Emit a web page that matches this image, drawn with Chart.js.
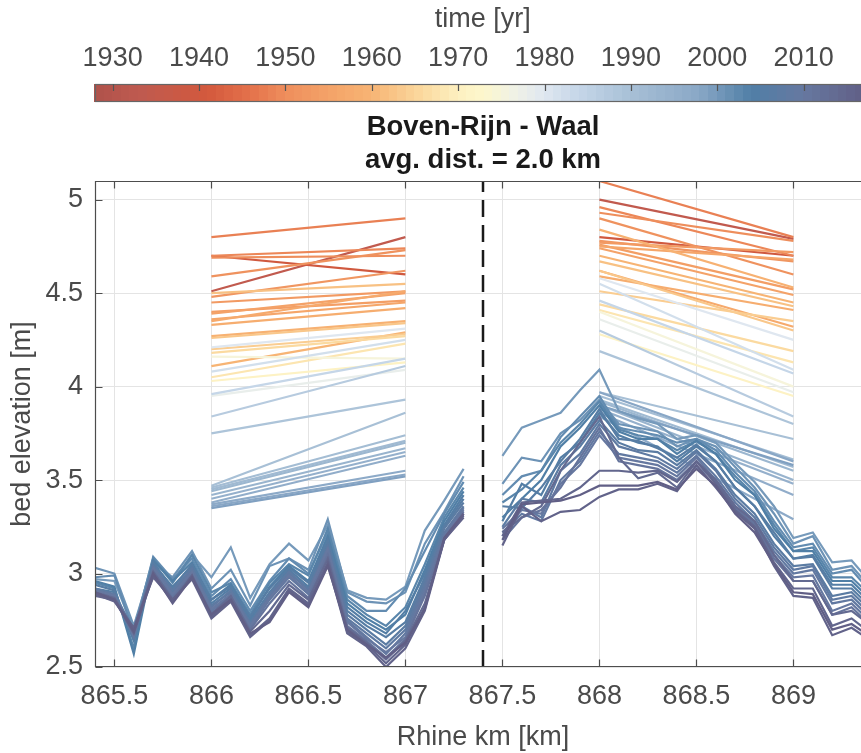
<!DOCTYPE html>
<html>
<head>
<meta charset="utf-8">
<title>Boven-Rijn - Waal</title>
<script src="https://cdn.jsdelivr.net/npm/chart.js@4/dist/chart.umd.min.js"></script>
<style>
  html, body { margin: 0; padding: 0; background: #fff; overflow: hidden; }
  #wrap { position: relative; width: 871px; height: 753px; }
  #wrap canvas { position: absolute; left: 0; top: 0; }
</style>
</head>
<body>
<div id="wrap">
  <canvas id="bed" width="871" height="753"></canvas>
  <canvas id="cbar" width="871" height="180"></canvas>
</div>
<script>
'use strict';

// ---- survey data ----
// sparse surveys: only the stations at km 866/867 and 868/869
const oldKm = [866, 867, 868, 869];
const oldYears = [1934, 1940, 1948, 1949, 1950, 1951, 1952, 1953, 1954, 1955, 1956, 1957, 1958, 1959, 1960, 1962, 1963, 1964, 1966, 1968, 1971, 1975, 1978, 1980, 1982, 1984, 1987, 1989, 1990, 1991, 1992, 1993, 1994, 1995, 1996, 1997, 1998, 1999];
const old866 = [4.51, 4.70, 4.80, 4.70, 4.69, 4.59, 4.48, 4.45, 4.40, 4.39, 4.36, 4.35, 4.33, 4.27, 4.11, 4.50, 4.26, 4.20, 4.18, 4.05, 4.03, 4.16, 3.95, 4.21, 4.08, 3.96, 3.84, 3.75, 3.47, 3.46, 3.45, 3.44, 3.42, 3.40, 3.38, 3.37, 3.36, 3.35];
const old867 = [4.80, 4.60, 4.90, 4.74, 4.70, 4.73, 4.62, 4.51, 4.46, 4.50, 4.45, 4.51, 4.42, 4.35, 4.29, 4.55, 4.34, 4.28, 4.27, 4.23, 4.13, 4.15, 4.09, 4.31, 4.25, 4.15, 4.11, 3.93, 3.86, 3.74, 3.71, 3.70, 3.67, 3.65, 3.63, 3.55, 3.53, 3.52];
const old868 = [5.00, 4.80, 5.10, 4.96, 4.93, 4.90, 4.78, 4.77, 4.76, 4.74, 4.75, 4.62, 4.59, 4.84, 4.70, 4.67, 4.62, 4.51, 4.44, 4.41, 4.28, 4.40, 4.36, 4.58, 4.55, 4.46, 4.30, 4.19, 3.97, 3.95, 3.93, 3.92, 3.90, 3.88, 3.86, 3.84, 3.97, 3.90];
const old869 = [4.79, 4.70, 4.80, 4.70, 4.78, 4.60, 4.67, 4.72, 4.52, 4.49, 4.68, 4.32, 4.41, 4.53, 4.45, 4.43, 4.30, 4.35, 4.19, 4.13, 3.95, 4.00, 3.97, 4.25, 4.09, 4.07, 3.84, 3.80, 3.72, 3.61, 3.57, 3.55, 3.50, 3.48, 3.42, 3.29, 3.60, 3.58];

// dense multibeam surveys, every 100 m on both sides of the split
const kmLeft = [865.4, 865.5, 865.6, 865.7, 865.8, 865.9, 866.0, 866.1, 866.2, 866.3, 866.4, 866.5, 866.6, 866.7, 866.8, 866.9, 867.0, 867.1, 867.2, 867.3];
const kmRight = [867.5, 867.6, 867.7, 867.8, 867.9, 868.0, 868.1, 868.2, 868.3, 868.4, 868.5, 868.6, 868.7, 868.8, 868.9, 869.0, 869.1, 869.2, 869.3, 869.4];
const profileYears = [2000, 2001, 2002, 2003, 2004, 2005, 2006, 2007, 2008, 2009, 2010, 2011, 2014, 2015, 2016, 2017];
const bedLeft = [
  [2.97, 2.96, 2.70, 3.08, 2.96, 3.10, 2.98, 3.14, 2.87, 3.05, 3.16, 3.07, 3.26, 2.91, 2.87, 2.86, 2.93, 3.23, 3.39, 3.56],
  [3.03, 3.00, 2.72, 3.06, 2.98, 3.12, 2.92, 3.02, 2.83, 3.04, 3.08, 3.02, 3.29, 2.90, 2.85, 2.84, 2.90, 3.16, 3.33, 3.52],
  [2.98, 2.99, 2.68, 3.09, 2.97, 3.08, 2.88, 2.97, 2.80, 2.96, 3.08, 3.00, 3.22, 2.88, 2.80, 2.80, 2.92, 3.12, 3.32, 3.49],
  [2.95, 2.92, 2.60, 3.08, 2.95, 3.10, 2.90, 2.95, 2.78, 2.95, 3.05, 2.99, 3.24, 2.86, 2.78, 2.72, 2.82, 3.05, 3.30, 3.46],
  [2.96, 2.93, 2.57, 3.07, 2.96, 3.06, 2.86, 2.94, 2.76, 2.93, 3.04, 2.96, 3.20, 2.84, 2.76, 2.70, 2.78, 3.02, 3.28, 3.44],
  [2.92, 2.90, 2.64, 3.05, 2.93, 3.04, 2.84, 2.92, 2.75, 2.90, 3.02, 2.93, 3.17, 2.82, 2.74, 2.68, 2.80, 3.00, 3.26, 3.42],
  [2.94, 2.91, 2.66, 3.06, 2.92, 3.05, 2.86, 2.93, 2.77, 2.92, 3.03, 2.95, 3.18, 2.80, 2.72, 2.66, 2.74, 2.98, 3.25, 3.40],
  [2.91, 2.88, 2.67, 3.02, 2.90, 3.02, 2.83, 2.90, 2.74, 2.88, 3.00, 2.92, 3.15, 2.78, 2.70, 2.62, 2.72, 2.96, 3.24, 3.38],
  [2.92, 2.89, 2.70, 3.04, 2.91, 3.03, 2.82, 2.91, 2.73, 2.89, 3.01, 2.91, 3.14, 2.76, 2.68, 2.60, 2.70, 2.94, 3.22, 3.36],
  [2.90, 2.87, 2.68, 3.01, 2.88, 3.00, 2.80, 2.88, 2.71, 2.86, 2.98, 2.89, 3.12, 2.75, 2.66, 2.57, 2.68, 2.92, 3.21, 3.35],
  [2.91, 2.88, 2.66, 3.03, 2.89, 3.01, 2.81, 2.89, 2.72, 2.87, 2.99, 2.90, 3.13, 2.74, 2.65, 2.58, 2.66, 2.90, 3.20, 3.34],
  [2.89, 2.86, 2.69, 3.00, 2.87, 2.99, 2.79, 2.87, 2.70, 2.84, 2.96, 2.87, 3.10, 2.72, 2.64, 2.55, 2.65, 2.88, 3.19, 3.33],
  [2.90, 2.87, 2.70, 3.01, 2.86, 2.98, 2.78, 2.88, 2.69, 2.80, 2.94, 2.86, 3.08, 2.71, 2.63, 2.54, 2.64, 2.84, 3.18, 3.32],
  [2.88, 2.86, 2.68, 2.99, 2.85, 2.99, 2.77, 2.86, 2.67, 2.76, 2.92, 2.84, 3.06, 2.69, 2.62, 2.52, 2.62, 2.82, 3.18, 3.31],
  [2.89, 2.85, 2.71, 2.98, 2.86, 2.97, 2.76, 2.85, 2.66, 2.75, 2.91, 2.83, 3.05, 2.68, 2.61, 2.50, 2.60, 2.80, 3.18, 3.30],
  [2.90, 2.86, 2.69, 3.00, 2.84, 2.98, 2.78, 2.86, 2.68, 2.74, 2.90, 2.82, 3.04, 2.70, 2.62, 2.55, 2.63, 2.81, 3.19, 3.32]
];
const bedRight = [
  [3.63, 3.78, 3.82, 3.86, 3.98, 4.09, 3.87, 3.83, 3.80, 3.72, 3.74, 3.70, 3.59, 3.49, 3.36, 3.19, 3.22, 3.06, 3.07, 2.95],
  [3.48, 3.62, 3.60, 3.75, 3.82, 3.93, 3.80, 3.78, 3.76, 3.68, 3.72, 3.68, 3.57, 3.46, 3.32, 3.16, 3.20, 3.02, 3.04, 2.92],
  [3.42, 3.52, 3.55, 3.73, 3.84, 3.95, 3.78, 3.76, 3.74, 3.70, 3.72, 3.66, 3.54, 3.44, 3.28, 3.14, 3.16, 3.00, 3.02, 2.90],
  [3.38, 3.45, 3.55, 3.70, 3.80, 3.92, 3.77, 3.74, 3.72, 3.66, 3.71, 3.64, 3.52, 3.42, 3.26, 3.12, 3.14, 2.98, 2.98, 2.88],
  [3.30, 3.40, 3.50, 3.68, 3.78, 3.90, 3.76, 3.72, 3.72, 3.64, 3.71, 3.64, 3.50, 3.42, 3.24, 3.12, 3.12, 2.96, 2.96, 2.86],
  [3.28, 3.48, 3.42, 3.62, 3.70, 3.86, 3.74, 3.70, 3.68, 3.60, 3.68, 3.60, 3.46, 3.36, 3.20, 3.08, 3.10, 2.94, 2.94, 2.84],
  [3.36, 3.35, 3.46, 3.60, 3.72, 3.88, 3.72, 3.71, 3.67, 3.62, 3.69, 3.60, 3.46, 3.36, 3.22, 3.08, 3.09, 2.92, 2.92, 2.82],
  [3.25, 3.40, 3.38, 3.58, 3.68, 3.82, 3.70, 3.66, 3.65, 3.58, 3.66, 3.56, 3.42, 3.32, 3.16, 3.04, 3.05, 2.88, 2.90, 2.80],
  [3.20, 3.36, 3.30, 3.55, 3.64, 3.80, 3.68, 3.65, 3.62, 3.56, 3.65, 3.55, 3.40, 3.30, 3.14, 3.02, 3.04, 2.86, 2.88, 2.78],
  [3.22, 3.32, 3.28, 3.50, 3.60, 3.76, 3.64, 3.62, 3.60, 3.54, 3.63, 3.52, 3.38, 3.28, 3.12, 3.00, 3.02, 2.84, 2.86, 2.76],
  [3.24, 3.34, 3.32, 3.48, 3.58, 3.74, 3.62, 3.60, 3.58, 3.52, 3.62, 3.50, 3.36, 3.27, 3.10, 2.98, 2.99, 2.80, 2.84, 2.74],
  [3.18, 3.30, 3.34, 3.46, 3.62, 3.78, 3.60, 3.58, 3.56, 3.50, 3.60, 3.49, 3.35, 3.26, 3.08, 2.96, 2.96, 2.78, 2.82, 2.72],
  [3.22, 3.30, 3.36, 3.55, 3.70, 3.84, 3.62, 3.51, 3.54, 3.46, 3.60, 3.50, 3.36, 3.28, 3.10, 2.96, 2.96, 2.78, 2.80, 2.72],
  [3.20, 3.38, 3.39, 3.40, 3.46, 3.55, 3.55, 3.54, 3.55, 3.49, 3.60, 3.48, 3.34, 3.25, 3.06, 2.92, 2.92, 2.72, 2.76, 2.68],
  [3.15, 3.36, 3.28, 3.33, 3.34, 3.41, 3.45, 3.45, 3.48, 3.44, 3.58, 3.46, 3.33, 3.24, 3.04, 2.88, 2.87, 2.67, 2.71, 2.64],
  [3.18, 3.37, 3.38, 3.39, 3.42, 3.47, 3.47, 3.47, 3.49, 3.45, 3.56, 3.47, 3.32, 3.22, 3.05, 2.90, 2.89, 2.70, 2.73, 2.66]
];

// bifurcation point (dashed line)
const splitKm = 867.4;

// axes
const xRange = [865.4, 869.4];
const yRange = [2.5, 5.1];
const xTicks = [865.5, 866, 866.5, 867, 867.5, 868, 868.5, 869];
const yTicks = [2.5, 3, 3.5, 4, 4.5, 5];
const cbarRange = [1927.9, 2017.8];
const cbarTicks = [1930, 1940, 1950, 1960, 1970, 1980, 1990, 2000, 2010];

// ---- colormap (time) ----
const cmapYears = [1928, 1933, 1941, 1946, 1950, 1956, 1960, 1966, 1970, 1973, 1977, 1980, 1984, 1990, 1998, 2004, 2010, 2017];
const cmapRGB = [
  [176, 82, 74], [190, 90, 80], [211, 89, 61], [228, 113, 75], [238, 142, 92], [245, 166, 106],
  [247, 180, 116], [251, 218, 160], [253, 240, 192], [253, 247, 205], [238, 241, 232], [223, 231, 240],
  [197, 214, 232], [168, 192, 214], [137, 167, 198], [80, 127, 166], [102, 120, 160], [97, 95, 134]
];

function yearColor(yr) {
  if (yr <= cmapYears[0]) return 'rgb(' + cmapRGB[0].join(',') + ')';
  for (let i = 1; i < cmapYears.length; i++) {
    if (yr <= cmapYears[i]) {
      const t = (yr - cmapYears[i - 1]) / (cmapYears[i] - cmapYears[i - 1]);
      const c = cmapRGB[i - 1].map((v, k) => Math.round(v + (cmapRGB[i][k] - v) * t));
      return 'rgb(' + c.join(',') + ')';
    }
  }
  return 'rgb(' + cmapRGB[cmapRGB.length - 1].join(',') + ')';
}

const FONT = "'Liberation Sans', Arial, Helvetica, sans-serif";
const TXT = '#4a4a4a';
const AXIS = '#4d4d4d';
const TICK_LEN = 7;
const CBAR_H = 18;
const fnt = { family: FONT, size: 27 };

// ---- datasets ----
const datasets = [];

oldYears.forEach((yr, i) => {
  datasets.push({
    data: [
      { x: oldKm[0], y: old866[i] }, { x: oldKm[1], y: old867[i] },
      { x: splitKm, y: null },
      { x: oldKm[2], y: old868[i] }, { x: oldKm[3], y: old869[i] }
    ],
    borderColor: yearColor(yr),
    order: -yr
  });
});

profileYears.forEach((yr, i) => {
  const pts = kmLeft.map((km, k) => ({ x: km, y: bedLeft[i][k] }));
  pts.push({ x: splitKm, y: null });
  kmRight.forEach((km, k) => pts.push({ x: km, y: bedRight[i][k] }));
  datasets.push({ data: pts, borderColor: yearColor(yr), order: -yr });
});

datasets.push({
  data: [{ x: splitKm, y: yRange[0] }, { x: splitKm, y: yRange[1] }],
  borderColor: '#1a1a1a', borderWidth: 2.5, borderDash: [17, 8], order: -9999
});

function fixedTicks(values) {
  return axis => { axis.ticks = values.map(v => ({ value: v })); };
}

// axes box with inward tick marks (left, bottom, top)
const framePlugin = {
  id: 'frame',
  afterDatasetsDraw(chart) {
    const { ctx, chartArea: a, scales: { x, y } } = chart;
    const L = Math.round(a.left) + 0.5, B = Math.round(a.bottom) - 0.5, T = Math.round(a.top) + 0.5;
    ctx.save();
    ctx.strokeStyle = AXIS;
    ctx.lineWidth = 1.2;
    ctx.beginPath();
    ctx.moveTo(a.right, T); ctx.lineTo(L, T); ctx.lineTo(L, B); ctx.lineTo(a.right, B);
    xTicks.forEach(v => {
      const px = Math.round(x.getPixelForValue(v)) + 0.5;
      ctx.moveTo(px, B); ctx.lineTo(px, B - TICK_LEN);
      ctx.moveTo(px, T); ctx.lineTo(px, T + TICK_LEN);
    });
    yTicks.forEach(v => {
      const py = Math.round(y.getPixelForValue(v)) + 0.5;
      ctx.moveTo(L, py); ctx.lineTo(L + TICK_LEN, py);
    });
    ctx.stroke();
    ctx.restore();
  }
};

new Chart(document.getElementById('bed'), {
  type: 'line',
  data: { datasets },
  options: {
    responsive: false,
    animation: false,
    devicePixelRatio: 1,
    spanGaps: false,
    layout: { padding: { top: 100, right: 0, bottom: 0, left: 0 } },
    elements: { point: { radius: 0 }, line: { borderWidth: 2.2, tension: 0 } },
    plugins: {
      legend: { display: false },
      tooltip: { enabled: false },
      title: {
        display: true,
        fullSize: false,
        text: ['Boven-Rijn - Waal', 'avg. dist. = 2.0 km'],
        color: '#1a1a1a',
        font: { family: FONT, size: 27.5, weight: 'bold', lineHeight: 1.2 },
        padding: { top: 10.5, bottom: 4.5 }
      }
    },
    scales: {
      x: {
        type: 'linear', min: xRange[0], max: xRange[1],
        afterBuildTicks: fixedTicks(xTicks),
        afterFit: s => { s.height = 86; },
        grid: { color: '#e4e4e4', drawTicks: false },
        border: { display: false },
        ticks: { padding: 13.8, color: TXT, font: fnt, maxRotation: 0, autoSkip: false, callback: v => String(v) },
        title: { display: true, text: 'Rhine km [km]', color: TXT, font: fnt, padding: { top: 9, bottom: -1 } }
      },
      y: {
        type: 'linear', min: yRange[0], max: yRange[1],
        afterBuildTicks: fixedTicks(yTicks),
        afterFit: s => { s.width = 95; },
        grid: { color: '#e4e4e4', drawTicks: false },
        border: { display: false },
        ticks: { padding: 12, color: TXT, font: fnt, callback: v => String(v) },
        title: { display: true, text: 'bed elevation [m]', color: TXT, font: fnt, padding: { top: 6.8, bottom: 0 } }
      }
    }
  },
  plugins: [framePlugin]
});

// ---- colorbar ----
const colorbarPlugin = {
  id: 'colorbar',
  afterDraw(chart) {
    const { ctx, chartArea: a, scales: { x } } = chart;
    const top = a.top;
    ctx.save();
    for (let yr = Math.floor(x.min); yr < x.max; yr++) {
      const x0 = Math.max(x.getPixelForValue(yr), a.left);
      const x1 = Math.min(x.getPixelForValue(yr + 1), a.right);
      ctx.fillStyle = yearColor(yr + 0.5);
      ctx.fillRect(Math.floor(x0), top, Math.ceil(x1) - Math.floor(x0), CBAR_H);
    }
    ctx.strokeStyle = '#666';
    ctx.lineWidth = 1.2;
    ctx.strokeRect(Math.round(a.left) + 0.5, Math.round(top) + 0.5, a.right - a.left, CBAR_H - 1);
    ctx.beginPath();
    cbarTicks.forEach(v => {
      const px = Math.round(x.getPixelForValue(v)) + 0.5;
      ctx.moveTo(px, top); ctx.lineTo(px, top + TICK_LEN);
    });
    ctx.strokeStyle = '#555';
    ctx.stroke();
    ctx.restore();
  }
};

new Chart(document.getElementById('cbar'), {
  type: 'scatter',
  data: { datasets: [] },
  options: {
    responsive: false,
    animation: false,
    devicePixelRatio: 1,
    layout: { padding: { top: 0, left: 94.5, right: 0, bottom: 0 } },
    plugins: { legend: { display: false }, tooltip: { enabled: false } },
    scales: {
      x: {
        type: 'linear', position: 'top', min: cbarRange[0], max: cbarRange[1],
        afterBuildTicks: fixedTicks(cbarTicks),
        afterFit: s => { s.height = 84; },
        grid: { display: false, drawTicks: false },
        border: { display: false },
        ticks: { padding: 8.8, color: TXT, font: fnt, maxRotation: 0, autoSkip: false, callback: v => String(v) },
        title: { display: true, text: 'time [yr]', color: TXT, font: fnt, padding: { top: 3.8, bottom: 7.8 } }
      },
      y: { display: false, min: 0, max: 1 }
    }
  },
  plugins: [colorbarPlugin]
});
</script>
</body>
</html>
